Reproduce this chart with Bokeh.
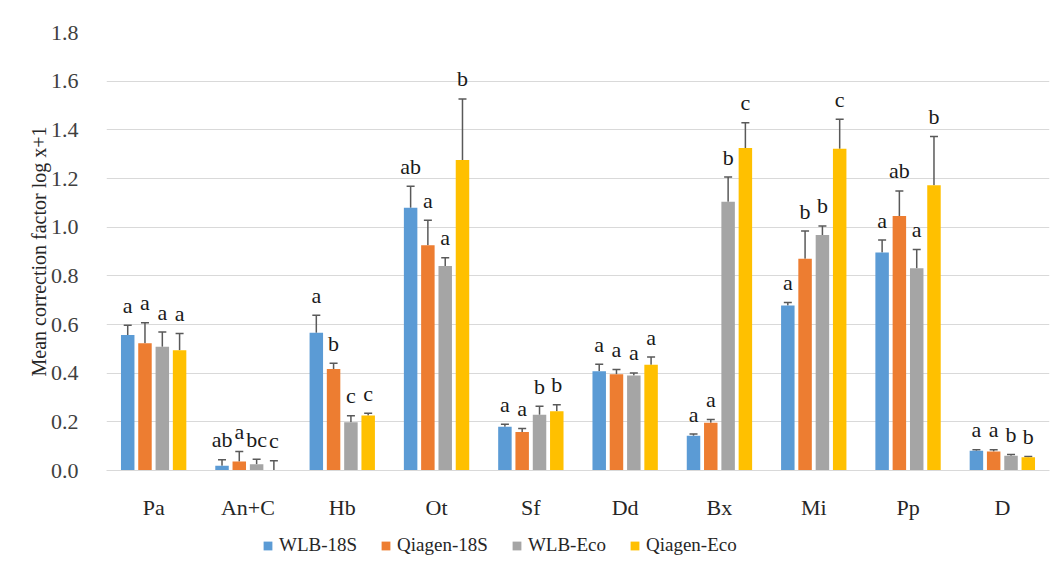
from bokeh.plotting import figure
from bokeh.layouts import column
from bokeh.models import (ColumnDataSource, FactorRange, Range1d, Whisker, TeeHead,
                          Legend, LegendItem, FixedTicker, NumeralTickFormatter)
from bokeh.transform import dodge
from bokeh.core.properties import value
from bokeh.embed import file_html
from bokeh.resources import INLINE

categories = ["Pa", "An+C", "Hb", "Ot", "Sf", "Dd", "Bx", "Mi", "Pp", "D"]
series_names = ["WLB-18S", "Qiagen-18S", "WLB-Eco", "Qiagen-Eco"]
series_colors = ["#5B9BD5", "#ED7D31", "#A5A5A5", "#FFC000"]

wlb_18s = [0.557, 0.020, 0.566, 1.080, 0.180, 0.408, 0.143, 0.678, 0.896, 0.081]
wlb_18s_err = [0.597, 0.044, 0.638, 1.168, 0.190, 0.437, 0.150, 0.690, 0.947, 0.085]
wlb_18s_letters = ["a", "ab", "a", "ab", "a", "a", "a", "a", "a", "a"]

qiagen_18s = [0.523, 0.037, 0.417, 0.926, 0.158, 0.396, 0.196, 0.870, 1.046, 0.078]
qiagen_18s_err = [0.607, 0.078, 0.441, 1.028, 0.173, 0.415, 0.210, 0.984, 1.149, 0.085]
qiagen_18s_letters = ["a", "a", "b", "a", "a", "a", "a", "b", "ab", "a"]

wlb_eco = [0.509, 0.026, 0.198, 0.840, 0.229, 0.390, 1.104, 0.968, 0.831, 0.061]
wlb_eco_err = [0.569, 0.046, 0.225, 0.874, 0.264, 0.401, 1.206, 1.005, 0.908, 0.066]
wlb_eco_letters = ["a", "bc", "c", "a", "b", "a", "b", "b", "a", "b"]

qiagen_eco = [0.494, 0.000, 0.226, 1.276, 0.243, 0.435, 1.325, 1.322, 1.172, 0.054]
qiagen_eco_err = [0.563, 0.040, 0.235, 1.527, 0.270, 0.466, 1.429, 1.443, 1.373, 0.058]
qiagen_eco_letters = ["a", "c", "c", "b", "b", "a", "c", "c", "b", "b"]

y_ticks = [0.0, 0.2, 0.4, 0.6, 0.8, 1.0, 1.2, 1.4, 1.6, 1.8]

all_vals = [wlb_18s, qiagen_18s, wlb_eco, qiagen_eco]
all_errs = [wlb_18s_err, qiagen_18s_err, wlb_eco_err, qiagen_eco_err]
all_letters = [wlb_18s_letters, qiagen_18s_letters, wlb_eco_letters, qiagen_eco_letters]
offsets = [-0.275, -0.092, 0.092, 0.275]

FONT_NAME = "Liberation Serif"
FONT = value(FONT_NAME)

p = figure(x_range=FactorRange(*categories), y_range=Range1d(0, 1.8),
           width=1052, height=522, output_backend="svg", toolbar_location=None,
           min_border_left=106, min_border_right=3, min_border_top=32, min_border_bottom=46)
p.outline_line_color = None
p.xgrid.visible = False
p.ygrid.grid_line_color = "#d9d9d9"
p.ygrid.grid_line_width = 1

p.yaxis.ticker = FixedTicker(ticks=y_ticks)
p.yaxis.formatter = NumeralTickFormatter(format="0.0")
p.yaxis.axis_line_color = None
p.yaxis.major_tick_line_color = None
p.yaxis.minor_tick_line_color = None
p.yaxis.major_label_standoff = 22
p.yaxis.major_label_text_font = FONT_NAME
p.yaxis.major_label_text_font_size = "22px"
p.yaxis.major_label_text_color = "#404040"
p.yaxis.axis_label = "Mean correction factor log x+1"
p.yaxis.axis_label_text_font = FONT_NAME
p.yaxis.axis_label_text_font_size = "20px"
p.yaxis.axis_label_text_font_style = "normal"
p.yaxis.axis_label_text_color = "#262626"
p.yaxis.axis_label_standoff = -2

p.xaxis.axis_line_color = "#d9d9d9"
p.xaxis.major_tick_line_color = None
p.xaxis.minor_tick_line_color = None
p.xaxis.major_label_standoff = 18
p.xaxis.major_label_text_font = FONT_NAME
p.xaxis.major_label_text_font_size = "22px"
p.xaxis.major_label_text_color = "#262626"

for color, vals, errs, letters, off in zip(series_colors, all_vals, all_errs,
                                           all_letters, offsets):
    src = ColumnDataSource(dict(cat=categories, val=vals, err=errs, lab=letters))
    xd = dodge("cat", off, range=p.x_range)
    p.vbar(x=xd, top="val", width=0.143, source=src, fill_color=color, line_color=None)
    w = Whisker(source=src, base=xd, upper="err", lower="val", dimension="height",
                line_color="#595959", line_width=1.5,
                upper_head=TeeHead(size=8, line_color="#595959", line_width=1.5),
                lower_head=None)
    p.add_layout(w)
    p.text(x=xd, y="err", text="lab", source=src, text_align="center",
           text_baseline="alphabetic", y_offset=-20, text_font=FONT,
           text_font_size="22px", text_color="#1a1a1a")

# legend strip below the chart (legend-only renderers, zero-height and out of view)
p2 = figure(width=1052, height=47, output_backend="svg", toolbar_location=None,
            x_range=Range1d(0, 1), y_range=Range1d(0, 1),
            x_axis_type=None, y_axis_type=None,
            min_border_left=0, min_border_right=0, min_border_top=0, min_border_bottom=0)
p2.outline_line_color = None
p2.xgrid.visible = False
p2.ygrid.visible = False
legend_items = []
for name, color in zip(series_names, series_colors):
    r = p2.vbar(x=[-5], top=[0], width=0.1, fill_color=color, line_color=None)
    legend_items.append(LegendItem(label=name, renderers=[r]))

legend = Legend(items=legend_items, orientation="horizontal", location=(156, 13),
                padding=0, margin=0, spacing=23, label_standoff=6,
                glyph_width=11, glyph_height=11, border_line_color=None,
                background_fill_alpha=0, label_text_font=FONT_NAME,
                label_text_font_size="19px", label_text_color="#262626")
p2.add_layout(legend, "center")

layout = column(p, p2, spacing=0)
open("out.html", "w").write(file_html(layout, INLINE))
